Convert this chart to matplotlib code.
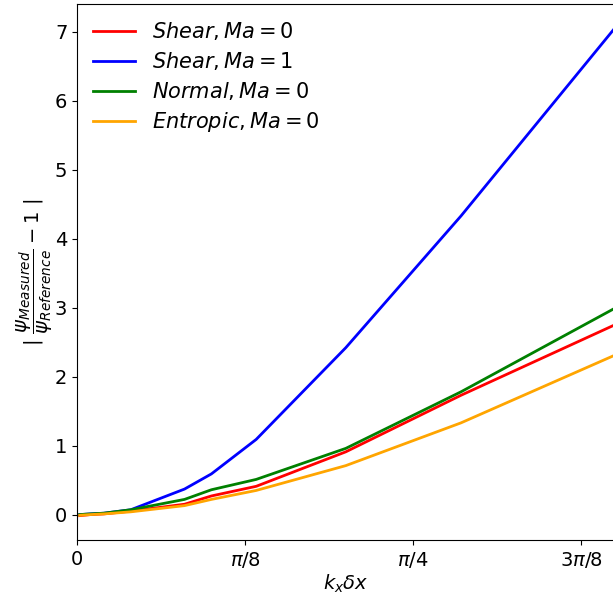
import numpy as np
import matplotlib
matplotlib.use("Agg")
import matplotlib.pyplot as plt

# grid resolutions -> wavenumber k_x * dx = 2*pi/N
N = np.array([1000, 200, 100, 50, 25, 20, 15, 10, 7, 5])
kdx = 2 * np.pi / N

shear_ma0 = [-0.015, 0.0, 0.01, 0.05, 0.15, 0.27, 0.41, 0.91, 1.73, 2.75]
shear_ma1 = [0.0, 0.01, 0.02, 0.07, 0.37, 0.59, 1.09, 2.42, 4.33, 7.05]
normal_ma0 = [0.0, 0.01, 0.02, 0.07, 0.22, 0.36, 0.51, 0.96, 1.78, 2.99]
entropic_ma0 = [-0.01, 0.0, 0.01, 0.04, 0.13, 0.22, 0.35, 0.71, 1.33, 2.31]

fig = plt.figure(figsize=(6.13, 5.97), dpi=100)
ax = fig.add_axes([0.1256, 0.0955, 0.877, 0.8978])

ax.plot(kdx, shear_ma0, color="red", lw=2, label=r"$Shear, Ma=0$")
ax.plot(kdx, shear_ma1, color="blue", lw=2, label=r"$Shear, Ma=1$")
ax.plot(kdx, normal_ma0, color="green", lw=2, label=r"$Normal, Ma=0$")
ax.plot(kdx, entropic_ma0, color="orange", lw=2, label=r"$Entropic, Ma=0$")

ax.set_xlim(0, 2 * np.pi / 5)
ax.set_xticks([0, np.pi / 8, np.pi / 4, 3 * np.pi / 8])
ax.set_xticklabels(["0", r"$\pi/8$", r"$\pi/4$", r"$3\pi/8$"])
ax.tick_params(labelsize=14)

ax.set_xlabel(r"$k_x\delta x$", fontsize=14, labelpad=2)
ax.set_ylabel(r"$|\ \dfrac{\psi_{Measured}}{\psi_{Reference}}-1\ |$", fontsize=14, labelpad=0)

ax.legend(loc="upper left", fontsize=15, frameon=False, labelspacing=0.38,
          borderaxespad=0.38)

fig.savefig("out.png", dpi=100)
